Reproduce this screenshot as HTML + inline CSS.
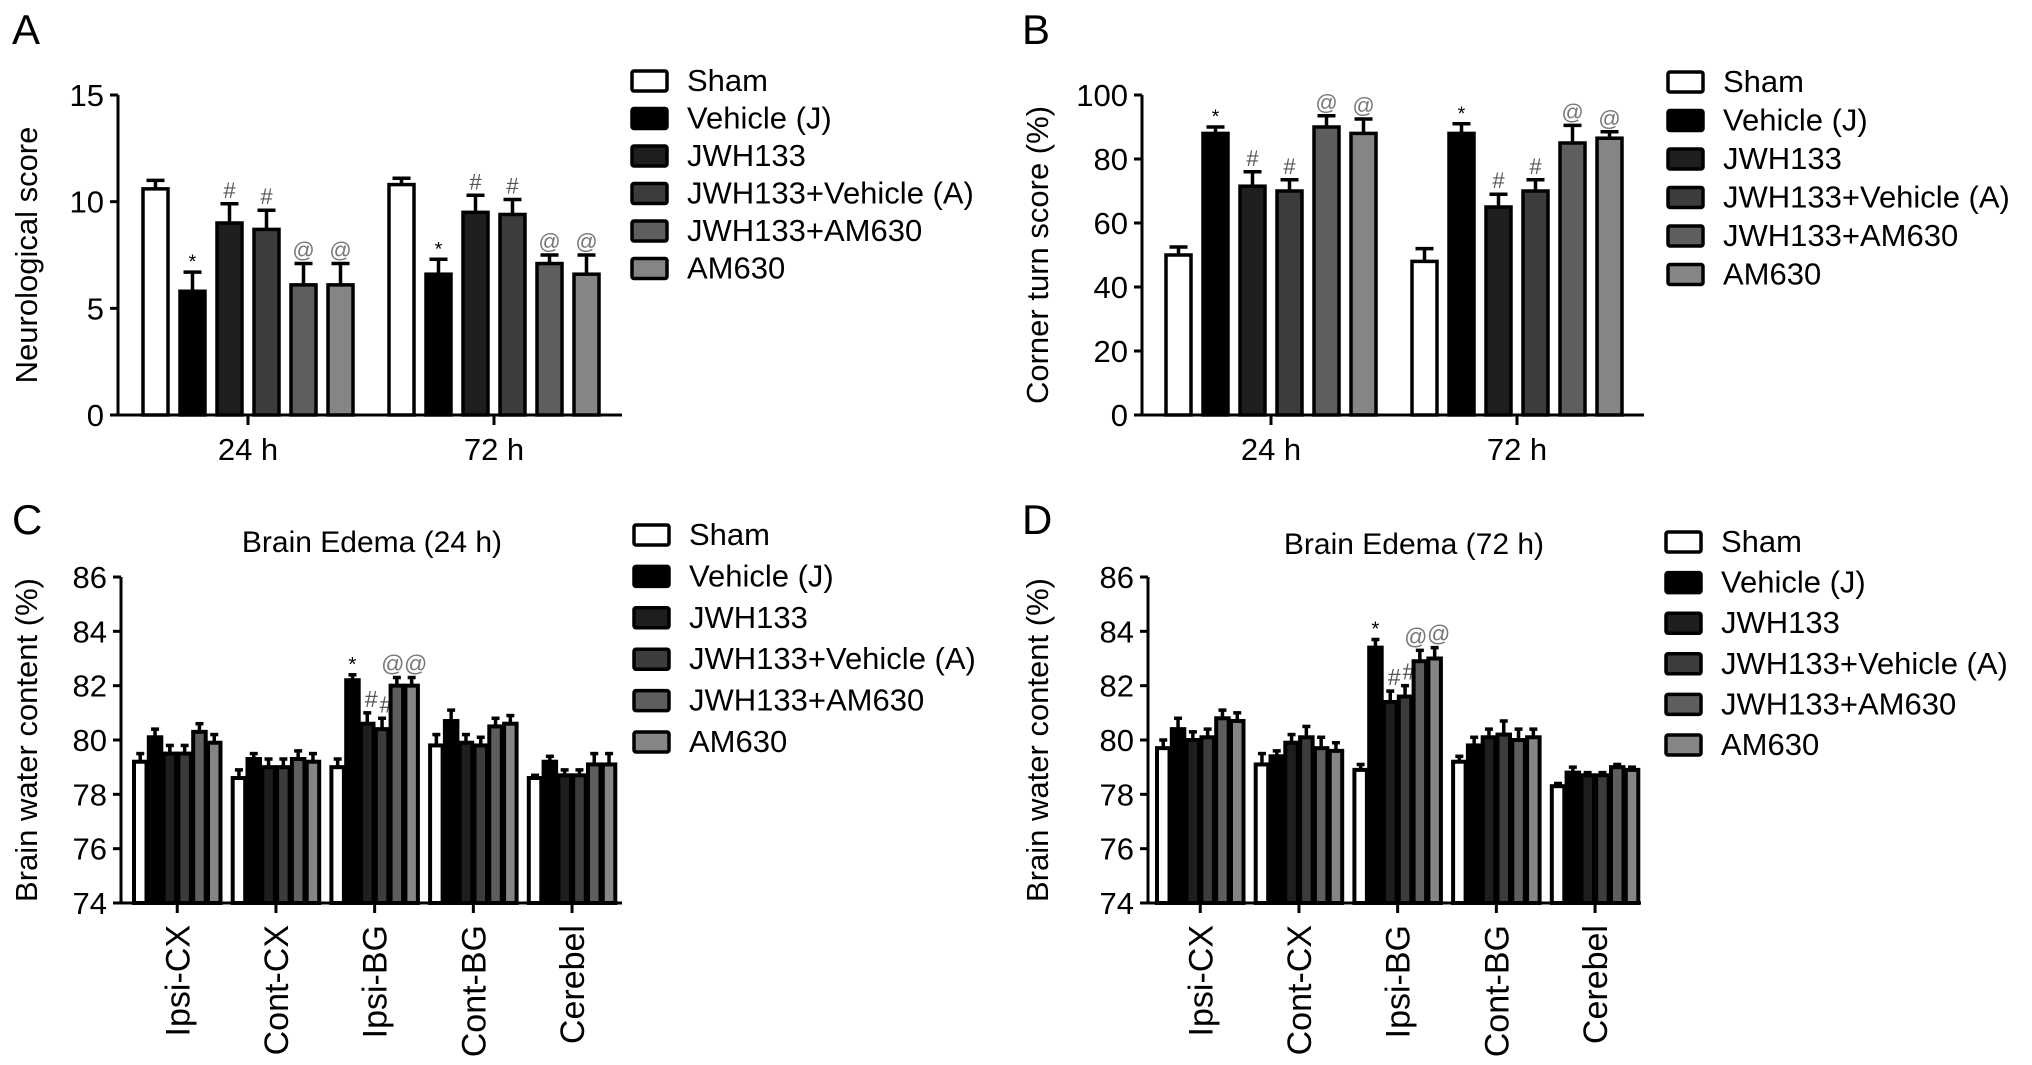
<!DOCTYPE html>
<html><head><meta charset="utf-8"><style>
html,body{margin:0;padding:0;background:#fff;}
svg{display:block;font-family:"Liberation Sans",Arial,sans-serif;}
</style></head><body>
<svg id="fig" width="2032" height="1065" viewBox="0 0 2032 1065" xmlns="http://www.w3.org/2000/svg">
<text x="12" y="44" font-size="42">A</text>
<text x="1022" y="44" font-size="42">B</text>
<text x="12" y="534" font-size="42">C</text>
<text x="1022" y="534" font-size="42">D</text>
</svg>
<script>
const groups = ["Sham","Vehicle (J)","JWH133","JWH133+Vehicle (A)","JWH133+AM630","AM630"];
const fills = ["#ffffff","#000000","#1e1e1e","#3c3c3c","#5e5e5e","#858585"];
const annColors = ["#000","#000","#555","#555","#777","#777"];

const aCats = ["24 h","72 h"];
const aVals = [[10.6,5.8,9.0,8.7,6.1,6.1],[10.8,6.6,9.5,9.4,7.1,6.6]];
const aErr = [[0.4,0.9,0.9,0.9,1.0,1.0],[0.3,0.7,0.8,0.7,0.4,0.9]];
const aAnn = [["","*","#","#","@","@"],["","*","#","#","@","@"]];
const aTicks = [0,5,10,15];

const bCats = ["24 h","72 h"];
const bVals = [[50,88,71.5,70,90,88],[48,88,65,70,85,86.5]];
const bErr = [[2.5,2,4.5,3.5,3.5,4.5],[4,3,4,3.5,5.5,2]];
const bAnn = [["","*","#","#","@","@"],["","*","#","#","@","@"]];
const bTicks = [0,20,40,60,80,100];

const cCats = ["Ipsi-CX","Cont-CX","Ipsi-BG","Cont-BG","Cerebel"];
const cVals = [[79.2,80.1,79.5,79.5,80.3,79.9],[78.6,79.3,79.0,79.0,79.3,79.2],[79.0,82.2,80.6,80.4,82.0,82.0],[79.8,80.7,79.9,79.8,80.5,80.6],[78.6,79.2,78.7,78.7,79.1,79.1]];
const cErr = [[0.3,0.3,0.3,0.3,0.3,0.3],[0.3,0.2,0.3,0.3,0.3,0.3],[0.3,0.2,0.4,0.4,0.3,0.3],[0.4,0.4,0.3,0.3,0.3,0.3],[0.1,0.2,0.2,0.2,0.4,0.4]];
const cAnn = [["","","","","",""],["","","","","",""],["","*","#","#","@","@"],["","","","","",""],["","","","","",""]];

const dCats = ["Ipsi-CX","Cont-CX","Ipsi-BG","Cont-BG","Cerebel"];
const dVals = [[79.7,80.4,80.0,80.1,80.8,80.7],[79.1,79.4,79.9,80.1,79.7,79.6],[78.9,83.4,81.4,81.6,82.9,83.0],[79.2,79.8,80.1,80.2,80.0,80.1],[78.3,78.8,78.7,78.7,79.0,78.9]];
const dErr = [[0.3,0.4,0.3,0.3,0.3,0.3],[0.4,0.2,0.3,0.4,0.4,0.3],[0.2,0.3,0.4,0.4,0.4,0.4],[0.2,0.3,0.3,0.5,0.4,0.3],[0.1,0.2,0.1,0.1,0.1,0.1]];
const dAnn = [["","","","","",""],["","","","","",""],["","*","#","#","@","@"],["","","","","",""],["","","","","",""]];
const cdTicks = [74,76,78,80,82,84,86];

const NS="http://www.w3.org/2000/svg";
const svg=document.getElementById('fig');
function mk(tag,attrs,parent,txt){const e=document.createElementNS(NS,tag);for(const k in attrs)e.setAttribute(k,attrs[k]);if(txt!==undefined)e.textContent=txt;(parent||svg).appendChild(e);return e;}

function panel(o){
  const g=mk('g',{});
  
  
  const y=v=>o.y0+(v-o.min)/(o.max-o.min)*(o.y1-o.y0);
  o.vals.forEach((row,ci)=>{
    const gx=o.firstBar+ci*o.groupStride;
    row.forEach((v,si)=>{
      const x=gx+si*o.barStride;
      const yt=y(v), ye=y(v+o.err[ci][si]);
      const cx=x+o.barW/2;
      const eb=mk('line',{x1:cx,y1:yt,x2:cx,y2:ye,stroke:'#000','stroke-width':3.5},g);
      
      
      const cap=mk('line',{x1:cx-o.capW,y1:ye,x2:cx+o.capW,y2:ye,stroke:'#000','stroke-width':3.5},g);
      
      
      const r=mk('rect',{x:x,y:yt,width:o.barW,height:o.y0-yt,fill:fills[si],stroke:'#000','stroke-width':o.sw},g);
      
      
      const a=o.ann[ci][si];
      if(a){
        const t=mk('text',{x:cx+(o.annDx?o.annDx[si]:0),y:ye-(a==='*'?4:6),'font-size':a==='*'?o.annFs*0.9:o.annFs,'text-anchor':'middle',fill:annColors[si]},g,a);
        
        
      }
    });
  });
  const ya=mk('line',{x1:o.ax,y1:o.y0+1.5,x2:o.ax,y2:o.y1,stroke:'#000','stroke-width':3},g);
  
  
  const xa=mk('line',{x1:o.ax-1.5,y1:o.y0,x2:o.axEnd,y2:o.y0,stroke:'#000','stroke-width':3},g);
  
  
  o.ticks.forEach(t=>{
    mk('line',{x1:o.ax-8,y1:y(t),x2:o.ax,y2:y(t),stroke:'#000','stroke-width':3},g);
    const tl=mk('text',{x:o.ax-14,y:y(t)+11,'font-size':31,'text-anchor':'end'},g,String(t));
    
    
  });
  o.cats.forEach((c,ci)=>{
    const gx=o.firstBar+ci*o.groupStride;
    const tx=gx+(6*o.barStride-(o.barStride-o.barW))/2;
    mk('line',{x1:tx,y1:o.y0,x2:tx,y2:o.y0+10,stroke:'#000','stroke-width':3},g);
    let t;
    if(o.rotate){
      t=mk('text',{x:0,y:0,'font-size':34,'text-anchor':'end',transform:`translate(${tx+12},${o.y0+22}) rotate(-90)`},g,c);
    } else {
      t=mk('text',{x:tx,y:o.y0+45,'font-size':31,'text-anchor':'middle'},g,c);
    }
    
    
  });
  const yt=mk('text',{x:0,y:0,'font-size':31,'text-anchor':'middle',transform:`translate(${o.ytX},${(o.y0+o.y1)/2}) rotate(-90)`},g,o.ytitle);
  
  
  if(o.title){
    const tt=mk('text',{x:o.titleX,y:o.titleY,'font-size':30,'text-anchor':'middle'},g,o.title);
    
    
  }
  groups.forEach((n,i)=>{
    const ly=o.legY+i*o.legStep;
    const lr=mk('rect',{x:o.legX,y:ly-9,width:35,height:20,rx:2,fill:fills[i],stroke:'#000','stroke-width':3.5},g);
    
    
    const lt=mk('text',{x:o.legX+55,y:ly+11,'font-size':31},g,n);
    
    
  });
}

panel({name:'panel-a-neurological-score',cats:aCats,vals:aVals,err:aErr,ann:aAnn,ticks:aTicks,min:0,max:15,y0:415,y1:95,
  ax:118,axEnd:622,firstBar:143,groupStride:246,barStride:37,barW:25,capW:9,sw:3.5,annFs:22,
  ytitle:'Neurological score',ytX:37,legX:632,legY:80,legStep:37.5});
panel({name:'panel-b-corner-turn',cats:bCats,vals:bVals,err:bErr,ann:bAnn,ticks:bTicks,min:0,max:100,y0:415,y1:95,
  ax:1142,axEnd:1644,firstBar:1166,groupStride:246,barStride:37,barW:25,capW:9,sw:3.5,annFs:22,
  ytitle:'Corner turn score (%)',ytX:1048,legX:1668,legY:81,legStep:38.5});
panel({name:'panel-c-brain-edema-24h',cats:cCats,vals:cVals,err:cErr,ann:cAnn,ticks:cdTicks,min:74,max:86,y0:903,y1:577,
  ax:121,axEnd:622,firstBar:134,groupStride:98.7,barStride:14.8,barW:12.5,capW:4,sw:4,annFs:23,annDx:[0,0,4,4,-4,4],
  ytitle:'Brain water content (%)',ytX:37,title:'Brain Edema (24 h)',titleX:372,titleY:552,legX:634,legY:534,legStep:41.4,rotate:true});
panel({name:'panel-d-brain-edema-72h',cats:dCats,vals:dVals,err:dErr,ann:dAnn,ticks:cdTicks,min:74,max:86,y0:903,y1:577,
  ax:1148,axEnd:1641,firstBar:1157,groupStride:98.7,barStride:14.8,barW:12.5,capW:4,sw:4,annFs:23,annDx:[0,0,4,4,-4,4],
  ytitle:'Brain water content (%)',ytX:1048,title:'Brain Edema (72 h)',titleX:1414,titleY:554,legX:1666,legY:541,legStep:40.6,rotate:true});
</script>
</body></html>
